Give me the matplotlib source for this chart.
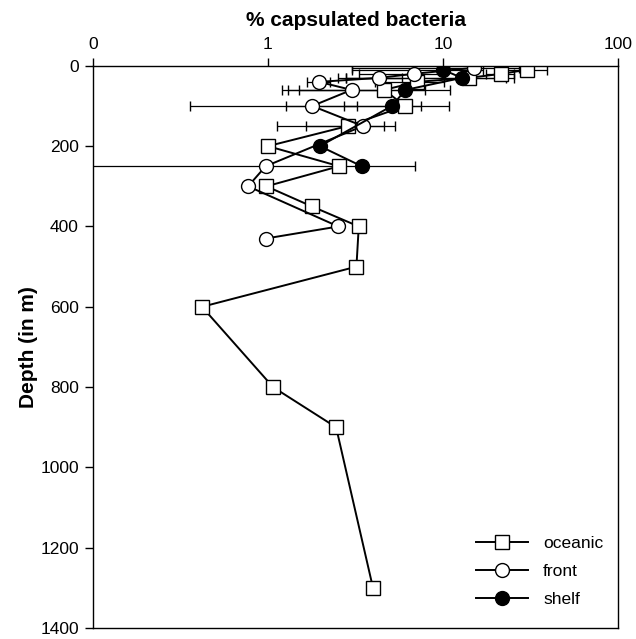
import matplotlib.pyplot as plt
import numpy as np

plt.rcParams['font.family'] = ['Liberation Sans', 'DejaVu Sans']

# oceanic station (squares)
oce_depth = [10, 20, 30, 40, 60, 100, 150, 200, 250, 300, 350, 400, 500, 600, 800, 900, 1300]
oce_pct = [30, 21.5, 14, 7.1, 4.6, 6.07, 2.85, 1.0, 2.55, 0.98, 1.78, 3.3, 3.2, 0.42, 1.07, 2.45, 3.98]
oce_err = [9, 4, 11.5, 3, 3.3, 4.8, 1.73, 0, 0, 0, 0, 0, 0, 0, 0, 0, 0]

# front station (open circles)
fro_depth = [5, 20, 30, 40, 60, 100, 150, 250, 300, 400, 430]
fro_pct = [15, 6.8, 4.3, 1.96, 3.0, 1.79, 3.48, 0.97, 0.77, 2.52, 0.97]
fro_err = [12, 3.5, 1.5, 0.3, 1.5, 1.43, 1.83, 0, 0, 0, 0]

# shelf station (filled circles)
she_depth = [10, 30, 60, 100, 200, 250]
she_pct = [10, 12.8, 6.1, 5.1, 1.98, 3.43]
she_err_lo = [7, 10, 4.9, 2.4, 0, 3.38]
she_err_hi = [7, 10, 4.9, 2.4, 0, 3.5]

fig = plt.figure(figsize=(6.36, 6.39), dpi=100)
ax = fig.add_axes([0.146, 0.017, 0.826, 0.880])

ekw = dict(ecolor='black', elinewidth=0.9, capsize=3.5, capthick=0.9, color='black',
           lw=1.4, ms=10, mec='black', mew=1.0)

ax.errorbar(oce_pct, oce_depth, xerr=oce_err, fmt='-s', mfc='white', label='oceanic', **ekw)
ax.errorbar(fro_pct, fro_depth, xerr=fro_err, fmt='-o', mfc='white', label='front', **ekw)
ax.errorbar(she_pct, she_depth, xerr=[she_err_lo, she_err_hi], fmt='-o', mfc='black',
            label='shelf', **ekw)

ax.set_xscale('log')
ax.set_xlim(0.1, 100)
ax.set_ylim(1400, 0)
ax.xaxis.tick_top()
ax.xaxis.set_label_position('top')
ax.set_xticks([0.1, 1, 10, 100])
ax.set_xticklabels(['0', '1', '10', '100'])
ax.xaxis.set_minor_locator(plt.NullLocator())
ax.set_yticks(np.arange(0, 1401, 200))
ax.tick_params(axis='both', labelsize=12.5, length=6, width=1, direction='out', pad=4)

ax.set_xlabel('% capsulated bacteria', fontsize=15, fontweight='bold', labelpad=8)
ax.set_ylabel('Depth (in m)', fontsize=15, fontweight='bold', labelpad=2)

for s in ax.spines.values():
    s.set_linewidth(1.0)

handles, labels = ax.get_legend_handles_labels()
handles = [h[0] for h in handles]
ax.legend(handles, labels, loc='lower right', frameon=False, fontsize=12.5,
          handlelength=3.0, handletextpad=0.85, labelspacing=0.75,
          borderaxespad=0, bbox_to_anchor=(0.985, 0.025))

fig.savefig('out.png', dpi=100)
